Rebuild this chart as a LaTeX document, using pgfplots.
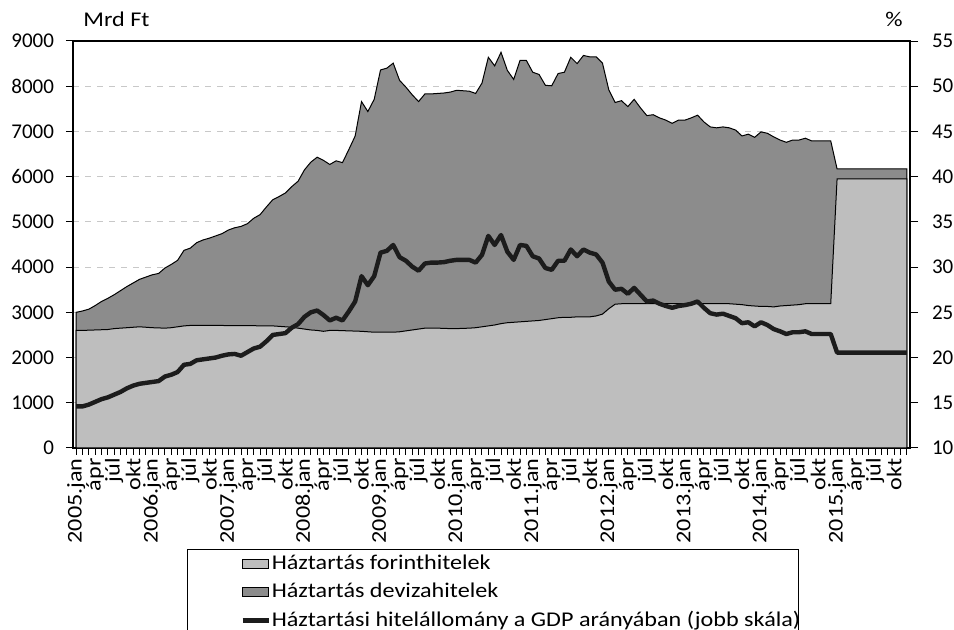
\documentclass[border=0pt]{standalone}
\usepackage{fontspec}
\setmainfont{Carlito}
\newfontfamily\wide[FakeStretch=1.15]{Carlito}
\usepackage{pgfplots}
\usepackage{pgfplotstable}
\pgfplotsset{compat=1.18}
\definecolor{forint}{RGB}{190,190,190}
\definecolor{deviza}{RGB}{140,140,140}
\definecolor{gdpline}{RGB}{28,28,28}
\definecolor{gridc}{RGB}{200,200,200}

\pgfplotstableread{
i F T G
0 2600 3000 14.6
1 2600 3030 14.6
2 2605 3070 14.8
3 2610 3150 15.1
4 2615 3240 15.4
5 2620 3310 15.6
6 2640 3390 15.9
7 2650 3480 16.2
8 2660 3570 16.6
9 2670 3650 16.9
10 2680 3730 17.1
11 2670 3780 17.2
12 2660 3830 17.3
13 2655 3860 17.4
14 2650 3980 17.9
15 2660 4060 18.1
16 2680 4150 18.4
17 2700 4370 19.2
18 2710 4420 19.3
19 2710 4540 19.7
20 2710 4600 19.8
21 2710 4640 19.9
22 2710 4690 20.0
23 2710 4740 20.2
24 2705 4820 20.35
25 2705 4870 20.4
26 2705 4900 20.2
27 2705 4960 20.6
28 2705 5080 21.0
29 2700 5160 21.2
30 2700 5330 21.8
31 2700 5490 22.5
32 2690 5560 22.6
33 2680 5640 22.7
34 2670 5780 23.3
35 2650 5900 23.7
36 2630 6150 24.5
37 2610 6320 25.0
38 2600 6430 25.2
39 2580 6360 24.7
40 2600 6270 24.1
41 2600 6350 24.4
42 2595 6310 24.1
43 2590 6600 25.1
44 2585 6900 26.2
45 2580 7660 29.0
46 2570 7440 28.0
47 2560 7710 29.0
48 2560 8360 31.6
49 2560 8400 31.8
50 2560 8510 32.45
51 2570 8130 31.1
52 2590 7980 30.7
53 2610 7810 30.05
54 2630 7660 29.6
55 2650 7830 30.4
56 2650 7830 30.5
57 2650 7840 30.5
58 2645 7850 30.55
59 2640 7870 30.7
60 2640 7910 30.8
61 2645 7900 30.8
62 2650 7890 30.8
63 2660 7840 30.5
64 2680 8070 31.35
65 2700 8640 33.45
66 2720 8450 32.45
67 2750 8750 33.55
68 2770 8350 31.7
69 2780 8150 30.8
70 2790 8570 32.45
71 2800 8570 32.35
72 2810 8310 31.2
73 2820 8260 30.95
74 2840 8020 29.9
75 2860 8010 29.7
76 2880 8280 30.7
77 2890 8310 30.7
78 2890 8640 31.95
79 2900 8500 31.2
80 2900 8680 31.95
81 2900 8650 31.6
82 2920 8650 31.4
83 2960 8510 30.5
84 3080 7920 28.4
85 3180 7640 27.5
86 3190 7680 27.6
87 3190 7550 27.05
88 3190 7710 27.7
89 3190 7520 26.95
90 3190 7350 26.2
91 3190 7370 26.3
92 3190 7300 25.95
93 3190 7250 25.7
94 3190 7180 25.5
95 3190 7250 25.7
96 3190 7250 25.8
97 3190 7300 25.95
98 3190 7360 26.2
99 3190 7210 25.5
100 3190 7100 24.9
101 3190 7080 24.75
102 3190 7100 24.85
103 3190 7080 24.6
104 3180 7030 24.35
105 3170 6900 23.8
106 3150 6940 23.9
107 3140 6870 23.45
108 3130 6990 23.9
109 3130 6960 23.6
110 3120 6880 23.15
111 3140 6810 22.9
112 3150 6760 22.6
113 3160 6810 22.8
114 3170 6810 22.8
115 3190 6850 22.9
116 3190 6790 22.6
117 3190 6790 22.6
118 3190 6790 22.6
119 3190 6790 22.6
120 5950 6170 20.55
121 5950 6170 20.55
122 5950 6170 20.55
123 5950 6170 20.55
124 5950 6170 20.55
125 5950 6170 20.55
126 5950 6170 20.55
127 5950 6170 20.55
128 5950 6170 20.55
129 5950 6170 20.55
130 5950 6170 20.55
131 5950 6170 20.55
}\data

\begin{document}
\begin{tikzpicture}[font=\fontsize{10.5pt}{12.6pt}\selectfont]
\begin{axis}[
  scale only axis, width=418.5pt, height=203.5pt,
  at={(36.5pt,91pt)}, anchor=south west,
  xmin=-0.5, xmax=131.5, ymin=0, ymax=9000,
  ytick={0,1000,...,9000},
  xtick={0,3,...,129},
  minor xtick={0,1,...,131},
  xticklabels={2005.jan,ápr,júl,okt,2006.jan,ápr,júl,okt,2007.jan,ápr,júl,okt,2008.jan,ápr,júl,okt,2009.jan,ápr,júl,okt,2010.jan,ápr,júl,okt,2011.jan,ápr,júl,okt,2012.jan,ápr,júl,okt,2013.jan,ápr,júl,okt,2014.jan,ápr,júl,okt,2015.jan,ápr,júl,okt},
  xticklabel style={rotate=90, anchor=east, inner sep=1.5pt, font=\wide\fontsize{10.5pt}{12.6pt}\selectfont},
  yticklabel style={xshift=-2.5pt},
  tick align=outside, tick pos=left,
  major tick length=3.5pt, minor tick length=3.5pt,
  tick style={black, line width=0.5pt},
  ymajorgrids, grid style={dashed, gridc, line width=0.5pt},
  axis line style={black, line width=0.7pt},
  /pgf/number format/1000 sep={},
  /pgf/number format/assume math mode=true,
  yticklabel style={font=\fontsize{10.5pt}{12.6pt}\selectfont},
  clip=false,
]
\addplot[fill=deviza, draw=black, line width=0.5pt] table[x=i,y=T]{\data} \closedcycle;
\addplot[fill=forint, draw=black, line width=0.5pt] table[x=i,y=F]{\data} \closedcycle;
\node[anchor=base west, inner sep=0pt, font=\wide\fontsize{10.5pt}{12.6pt}\selectfont] at ([xshift=5pt,yshift=7pt]rel axis cs:0,1) {Mrd Ft};
\node[anchor=base east, inner sep=0pt, font=\wide\fontsize{10.5pt}{12.6pt}\selectfont] at ([xshift=-3.5pt,yshift=7pt]rel axis cs:1,1) {\%};
\end{axis}
\begin{axis}[
  scale only axis, width=418.5pt, height=203.5pt,
  at={(36.5pt,91pt)}, anchor=south west,
  xmin=-0.5, xmax=131.5, ymin=10, ymax=55,
  ytick={10,15,...,55},
  axis x line=none, axis y line*=right,
  tick align=outside,
  major tick length=4pt,
  tick style={black, line width=0.5pt},
  axis line style={black, line width=0.7pt},
  /pgf/number format/assume math mode=true,
  yticklabel style={xshift=3.5pt, font=\fontsize{10.5pt}{12.6pt}\selectfont},
  legend style={at={(0.1995,-0.252)}, anchor=north west, draw=none, fill=none,
    inner sep=0pt, row sep=1.3pt,
    nodes={inner xsep=0.5pt, inner ysep=2pt},
    font=\wide\fontsize{10.5pt}{12.6pt}\selectfont},
  legend cell align=left,
]
\addlegendimage{legend image code/.code={\draw[fill=forint, draw=black, line width=0.5pt] (0pt,-2.2pt) rectangle (13pt,2.2pt);}}
\addlegendentry{Háztartás forinthitelek}
\addlegendimage{legend image code/.code={\draw[fill=deviza, draw=black, line width=0.5pt] (0pt,-2.2pt) rectangle (13pt,2.2pt);}}
\addlegendentry{Háztartás devizahitelek}
\addplot[gdpline, line width=2.2pt, line join=round,
  legend image code/.code={\draw[gdpline, line width=2.2pt] (0pt,0pt) -- (13pt,0pt);}]
  table[x=i,y=G]{\data};
\addlegendentry{Háztartási hitelállomány a GDP arányában (jobb skála)}
\end{axis}
\draw[black, line width=0.5pt] (93.5pt,40pt) rectangle (399pt,-10pt);
\pgfresetboundingbox
\useasboundingbox (0,0) rectangle (477pt,315pt);
\end{tikzpicture}
\end{document}
